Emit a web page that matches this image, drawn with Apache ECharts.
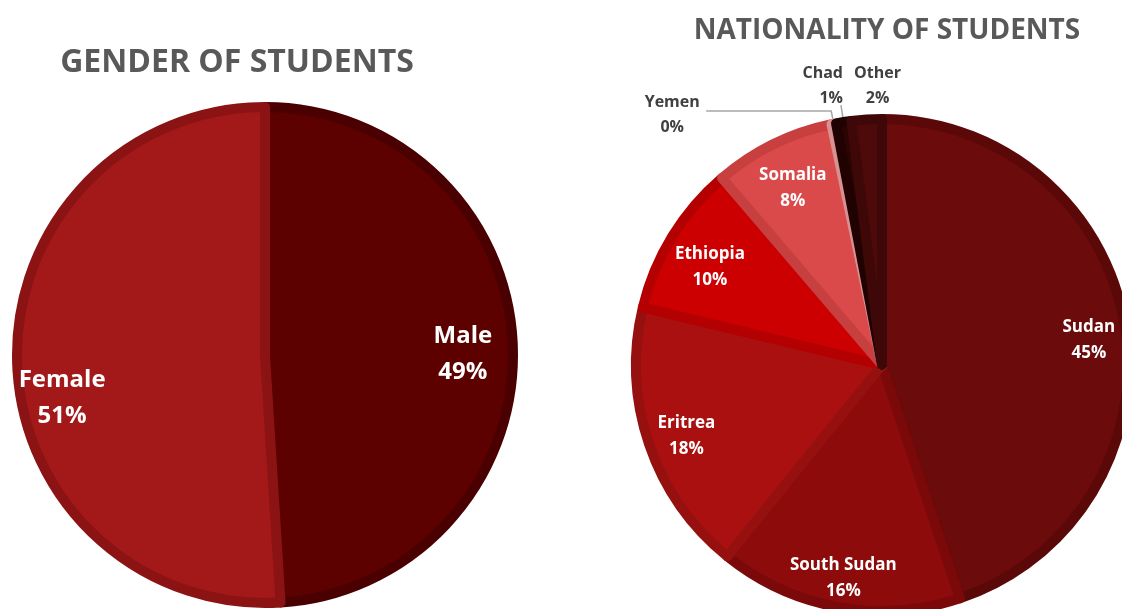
<!DOCTYPE html>
<html>
<head>
<meta charset="utf-8">
<script src="https://cdn.jsdelivr.net/npm/echarts@6/dist/echarts.min.js"></script>
<style>
  html, body { margin: 0; padding: 0; background: #fff; }
  #chart { width: 1122px; height: 609px; }
</style>
</head>
<body>
<div id="chart"></div>
<script>
// gender pie
const genderNames = ['Male', 'Female']
const genderValues = [49, 51]
const genderFill = ['#5c0000', '#a31818']
const genderEdge = ['#4a0000', '#8c1313']

// nationality pie (clockwise from 12 o'clock)
const nationNames = ['Sudan', 'South Sudan', 'Eritrea', 'Ethiopia', 'Somalia', 'Yemen', 'Chad', 'Other']
const nationValues = [45, 16, 18, 10, 8, 0.3, 1, 2]
const nationFill = ['#6b0b0b', '#8e0b0b', '#ab1010', '#cc0000', '#db4a4a', '#eba3a3', '#2d0404', '#4e0a0a']
const nationEdge = ['#5a0808', '#7b0909', '#961010', '#b40000', '#c83f3f', '#d99090', '#200202', '#3f0808']
const nationOutside = ['Yemen', 'Chad', 'Other']

// label nudges (Excel "best fit" puts them a bit off the mid-angle)
const labelNudge = {
  Male: { dx: -10, dy: 6 },
  Female: { dx: 5, dy: 37 },
  Sudan: { dx: 3, dy: 8 },
  'South Sudan': { dx: -2, dy: 10 },
  Eritrea: { dy: 5 },
  Ethiopia: { dx: 4, dy: 10 },
  Somalia: { dx: 2, dy: 8 },
  Yemen: { dx: -29, dy: 4, align: 'center' },
  Chad: { dx: 7, dy: -19 },
  Other: { dx: 17, dy: -17, align: 'center' },
}

const font = '"Open Sans", "Noto Sans", sans-serif'

function fillSeries(names, values, fill, edge, center, r) {
  return {
    type: 'pie',
    center,
    radius: r - 5,
    startAngle: 90,
    silent: true,
    label: { show: false },
    labelLine: { show: false },
    data: names.map((n, i) => ({
      name: n,
      value: values[i],
      itemStyle: { color: fill[i], borderColor: edge[i], borderWidth: 10 },
    })),
  }
}

function labelSeries(names, values, center, r, fontSize, lineHeight, outside) {
  return {
    type: 'pie',
    center,
    radius: [Math.round(r * 0.62), r],
    startAngle: 90,
    silent: true,
    avoidLabelOverlap: false,
    itemStyle: { color: 'rgba(0,0,0,0)' },
    label: {
      show: true,
      position: 'inside',
      color: '#fff',
      fontFamily: font,
      fontWeight: 'bold',
      fontSize,
      lineHeight,
      formatter: (p) => p.name + '\n' + Math.round(p.value) + '%',
    },
    labelLayout: (p) => labelNudge[names[p.dataIndex]] || {},
    data: names.map((n, i) => {
      const item = { name: n, value: values[i] }
      if (outside.includes(n)) {
        item.label = { position: 'outside', color: '#404040', fontSize: 16, lineHeight: 25 }
        item.labelLine = {
          show: n !== 'Other',
          length: n === 'Yemen' ? 8 : 12,
          length2: n === 'Yemen' ? 125 : 0,
          lineStyle: { color: '#a6a6a6', width: 1.5 },
        }
      }
      return item
    }),
  }
}

const chart = echarts.init(document.getElementById('chart'))
chart.setOption({
  backgroundColor: '#fff',
  animation: false,
  title: [
    {
      text: 'GENDER OF STUDENTS',
      left: 232,
      top: 42,
      textAlign: 'center',
      textStyle: { fontFamily: font, fontWeight: 'bold', fontSize: 32, color: '#595959' },
    },
    {
      text: 'NATIONALITY OF STUDENTS',
      left: 882,
      top: 12,
      textAlign: 'center',
      textStyle: { fontFamily: font, fontWeight: 'bold', fontSize: 28, color: '#595959' },
    },
  ],
  series: [
    fillSeries(genderNames, genderValues, genderFill, genderEdge, [265, 355], 253),
    labelSeries(genderNames, genderValues, [265, 355], 253, 24, 36, []),
    fillSeries(nationNames, nationValues, nationFill, nationEdge, [882, 365], 251),
    labelSeries(nationNames, nationValues, [882, 365], 251, 17, 26, nationOutside),
  ],
})
</script>
</body>
</html>
